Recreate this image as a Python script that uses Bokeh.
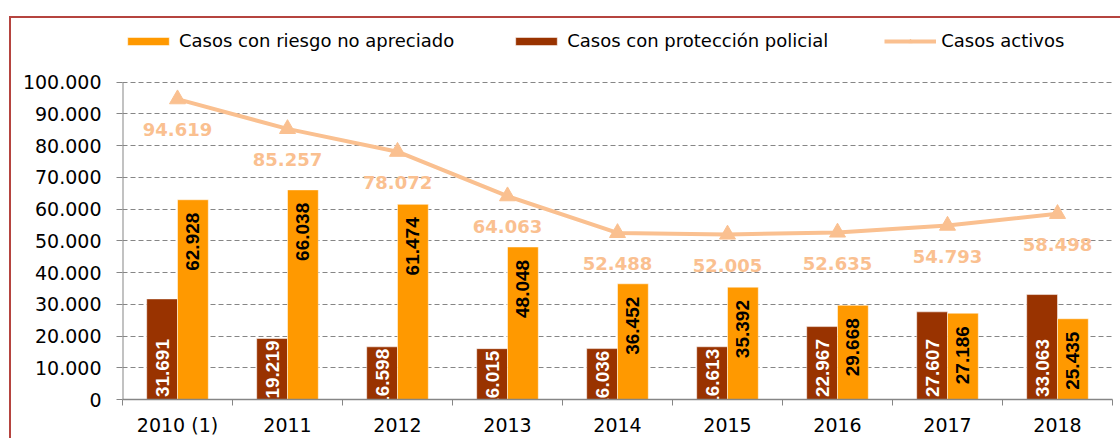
import numpy as np
from bokeh.plotting import figure
from bokeh.models import (Range1d, LinearAxis, FixedTicker, CustomJSTickFormatter,
                          Legend, LegendItem, InlineStyleSheet)
from bokeh.core.properties import value
from bokeh.embed import file_html
from bokeh.resources import INLINE

years = ["2010 (1)", "2011", "2012", "2013", "2014", "2015", "2016", "2017", "2018"]
riesgo_no_apreciado = [62928, 66038, 61474, 48048, 36452, 35392, 29668, 27186, 25435]
proteccion_policial = [31691, 19219, 16598, 16015, 16036, 16613, 22967, 27607, 33063]
casos_activos = [94619, 85257, 78072, 64063, 52488, 52005, 52635, 54793, 58498]
y_ticks = list(range(0, 100001, 10000))

C_ORANGE = "#FF9900"
C_BROWN = "#993300"
C_LINE = "#FAC090"
C_GRAY = "#868686"
C_BORDER = "#B5443F"


def fmt(v):
    return f"{v:,}".replace(",", ".")


W, H = 1120, 438
TOP, BOTTOM, LEFT, RIGHT = 30, 36, 122, 8
FRAME_H = H - TOP - BOTTOM
HEAD = 52  # pixels between frame top and the top gridline
Y_MAX = max(y_ticks) * FRAME_H / (FRAME_H - HEAD)
px = Y_MAX / FRAME_H  # data units per pixel
LEG_CENTER = 44  # legend row centre, pixels from the top of the canvas

sheet = InlineStyleSheet(css=(
    ":host { position: relative; }\n"
    ":host::before { content: ''; position: absolute; left: 9px; top: 16px; right: 0; bottom: 0;"
    f" border-left: 2px solid {C_BORDER}; border-top: 2px solid {C_BORDER};"
    " pointer-events: none; z-index: 100; }"))

p = figure(width=W, height=H, x_range=Range1d(0, len(years)), y_range=Range1d(0, Y_MAX),
           output_backend="svg", toolbar_location=None,
           min_border_left=LEFT, min_border_right=RIGHT, min_border_top=TOP,
           min_border_bottom=BOTTOM, stylesheets=[sheet])
p.outline_line_color = None
p.background_fill_color = "white"
p.border_fill_color = "white"

# y axis
yax = p.yaxis[0]
yax.ticker = FixedTicker(ticks=y_ticks)
yax.formatter = CustomJSTickFormatter(code="return tick.toFixed(0).replace(/\\B(?=(\\d{3})+(?!\\d))/g, '.');")
yax.axis_line_color = None
yax.major_tick_line_color = C_GRAY
yax.major_tick_out = 6
yax.major_tick_in = 0
yax.minor_tick_line_color = None
yax.major_label_text_font = "DejaVu Sans"
yax.major_label_text_font_size = "19px"
yax.major_label_text_color = "black"
yax.major_label_standoff = 15
# visible y axis line only up to the top tick
p.segment(x0=[0], y0=[min(y_ticks)], x1=[0], y1=[max(y_ticks)], line_color=C_GRAY, line_width=2)

p.ygrid.ticker = FixedTicker(ticks=y_ticks)
p.ygrid.grid_line_color = C_GRAY
p.ygrid.grid_line_dash = "5 3"
p.ygrid.grid_line_width = 1
p.xgrid.grid_line_color = None

# x axis: boundary ticks only
xax = p.xaxis[0]
xax.ticker = FixedTicker(ticks=list(range(len(years) + 1)))
xax.formatter = CustomJSTickFormatter(code="return '';")
xax.major_label_standoff = 0
xax.axis_line_color = C_GRAY
xax.axis_line_width = 1.5
xax.major_tick_line_color = C_GRAY
xax.major_tick_out = 6
xax.major_tick_in = 0
xax.minor_tick_line_color = None

# x axis: category labels
centers = [i + 0.5 for i in range(len(years))]
xax2 = LinearAxis(ticker=FixedTicker(ticks=centers),
                  formatter=CustomJSTickFormatter(args=dict(labels=years),
                                                  code="return labels[Math.floor(tick)];"))
xax2.axis_line_color = None
xax2.major_tick_line_color = None
xax2.minor_tick_line_color = None
xax2.major_tick_out = 0
xax2.major_tick_in = 0
xax2.major_label_text_font = "DejaVu Sans"
xax2.major_label_text_font_size = "19px"
xax2.major_label_text_color = "black"
xax2.major_label_standoff = 8
p.add_layout(xax2, "below")

bw = 0.28
x_brown = [c - bw / 2 for c in centers]
x_orange = [c + bw / 2 for c in centers]

r_brown = p.vbar(x=x_brown, top=proteccion_policial, width=bw, fill_color=C_BROWN,
                 line_color="white", line_alpha=0.5, line_width=1)
r_orange = p.vbar(x=x_orange, top=riesgo_no_apreciado, width=bw, fill_color=C_ORANGE,
                  line_color="white", line_alpha=0.5, line_width=1)

bar_font = value("Liberation Sans")
p.text(x=x_orange, y=[v - 13 * px for v in riesgo_no_apreciado],
       text=[fmt(v) for v in riesgo_no_apreciado], angle=np.pi / 2,
       text_align="right", text_baseline="middle", text_font=bar_font,
       text_font_style="bold", text_font_size="19px", text_color="black")
p.text(x=x_brown, y=[min(v - 2 * px, 61 * px) for v in proteccion_policial],
       text=[fmt(v) for v in proteccion_policial], angle=np.pi / 2,
       text_align="right", text_baseline="middle", text_font=bar_font,
       text_font_style="bold", text_font_size="19px", text_color="white")

r_line = p.line(x=centers, y=casos_activos, line_width=4, line_color=C_LINE)
r_tri = p.scatter(x=centers, y=casos_activos, marker="triangle", size=16,
                  fill_color=C_LINE, line_color=C_LINE)
p.text(x=centers, y=[v - 31 * px for v in casos_activos], text=[fmt(v) for v in casos_activos],
       text_align="center", text_baseline="middle", text_font=value("DejaVu Sans"),
       text_font_style="bold", text_font_size="18px", text_color=C_LINE)

legend = Legend(items=[LegendItem(label="Casos con riesgo no apreciado", renderers=[r_orange]),
                       LegendItem(label="Casos con protección policial", renderers=[r_brown]),
                       LegendItem(label="Casos activos", renderers=[r_line, r_tri])],
                orientation="horizontal", location=(0, (H - BOTTOM) - LEG_CENTER - 10),
                glyph_width=52, glyph_height=10, label_standoff=5, spacing=56,
                padding=0, margin=0, border_line_color=None, background_fill_alpha=0,
                label_text_font="DejaVu Sans", label_text_font_size="18px",
                label_text_color="black")
p.add_layout(legend, "center")

open("out.html", "w").write(file_html(p, INLINE))
